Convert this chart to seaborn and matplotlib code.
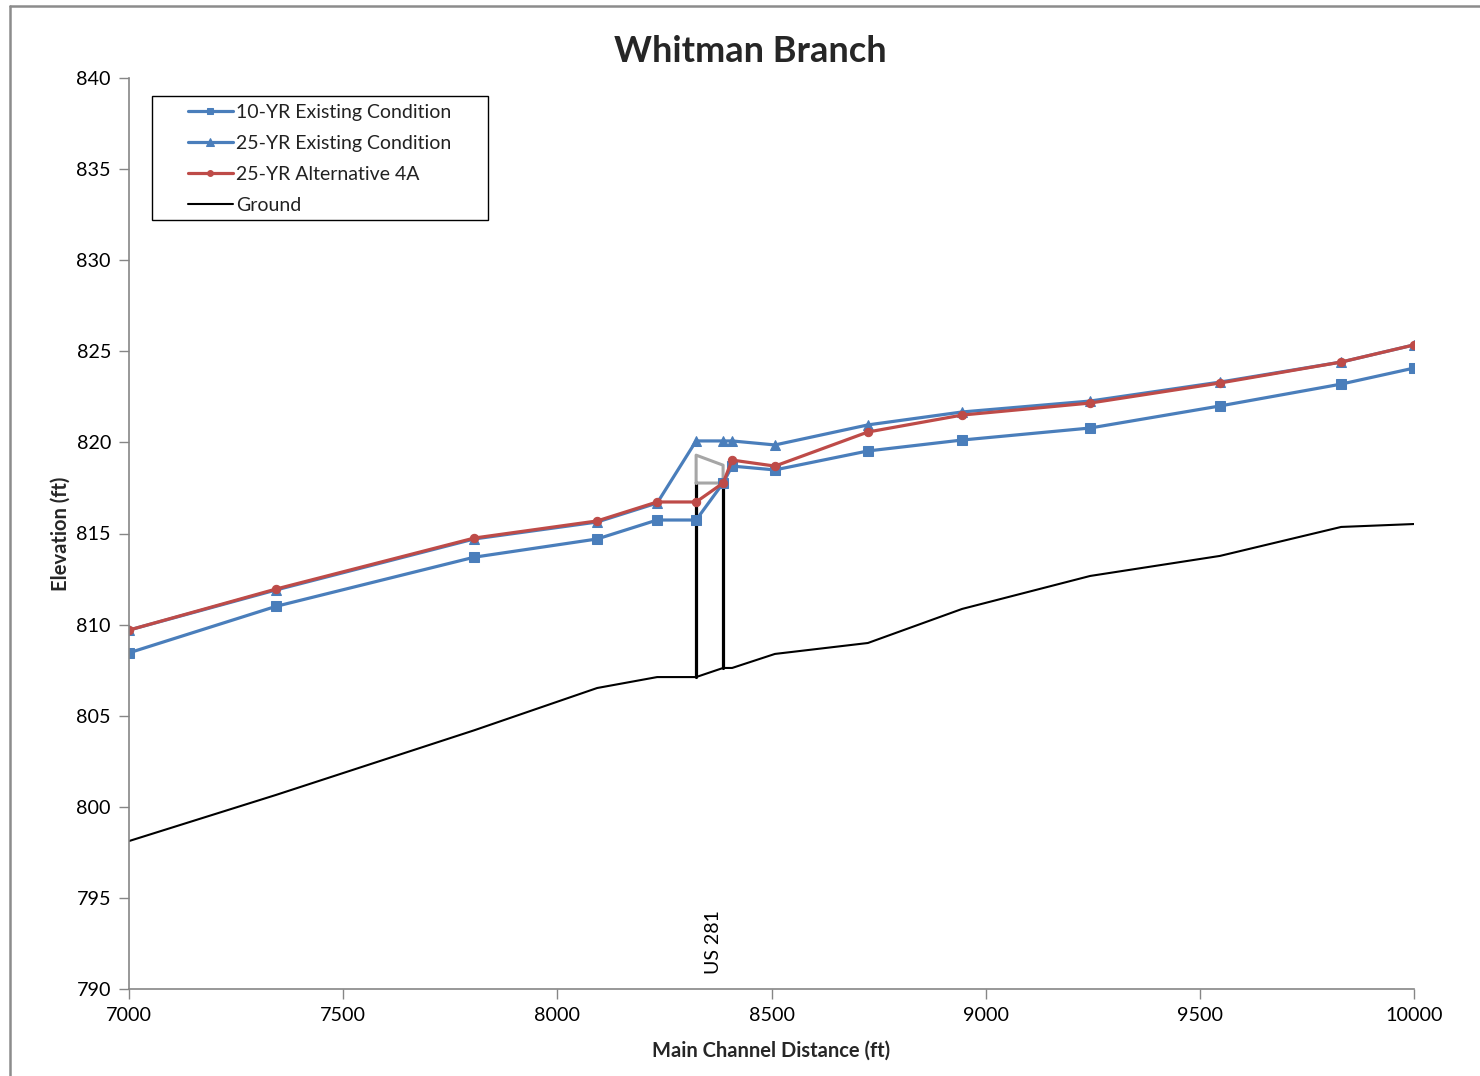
import numpy as np
import pandas as pd
import matplotlib
matplotlib.use("Agg")
import matplotlib.pyplot as plt
from matplotlib.lines import Line2D
from matplotlib.patches import Rectangle
import seaborn as sns

# ---- data ----
stations = [7000, 7343, 7806, 8093, 8233, 8324, 8387, 8408, 8508, 8725, 8945, 9244, 9547, 9830, 10000]
yr10_existing = [808.45, 811.0, 813.7, 814.7, 815.74, 815.74, 817.77, 818.7, 818.49, 819.53, 820.13, 820.79, 822.0, 823.2, 824.08]
yr25_existing = [809.7, 811.9, 814.7, 815.63, 816.67, 820.08, 820.08, 820.08, 819.86, 820.96, 821.67, 822.27, 823.31, 824.41, 825.35]
yr25_alt4a = [809.7, 811.95, 814.75, 815.69, 816.73, 816.73, 817.77, 819.03, 818.7, 820.57, 821.5, 822.16, 823.26, 824.41, 825.35]
ground = [798.12, 800.65, 804.2, 806.52, 807.12, 807.12, 807.62, 807.62, 808.39, 808.99, 810.86, 812.67, 813.77, 815.36, 815.52]

bridge_x = [8324, 8387]
bridge_ground = [807.12, 807.62]
bridge_low_chord = [817.77, 817.77]
bridge_high_chord = [819.3, 818.75]
bridge_label = "US 281"
bridge_label_x = 8364
bridge_label_y = 790.8

series_names = ["10-YR Existing Condition", "25-YR Existing Condition", "25-YR Alternative 4A", "Ground"]
title = "Whitman Branch"
xlabel = "Main Channel Distance (ft)"
ylabel = "Elevation (ft)"
xticks = [7000, 7500, 8000, 8500, 9000, 9500, 10000]
yticks = [790, 795, 800, 805, 810, 815, 820, 825, 830, 835, 840]

# ---- style ----
sns.set_theme(style="white")
plt.rcParams["font.family"] = ["Lato", "DejaVu Sans"]

BLUE = "#4a7ebb"
RED = "#be4b48"
GRAY_AX = "#868686"

W, H = 1480, 1076
fig = plt.figure(figsize=(W/100, H/100), dpi=100)
ax = fig.add_axes([129/W, 1-989/H, (1414-129)/W, (989-78)/H])

sns.lineplot(x=stations, y=yr10_existing, ax=ax, color=BLUE, lw=2.3, marker="s",
             markersize=6.5, markeredgecolor=BLUE, sort=False, estimator=None,
             label=series_names[0])
sns.lineplot(x=stations, y=yr25_existing, ax=ax, color=BLUE, lw=2.3, marker="^",
             markersize=7.5, markeredgecolor=BLUE, sort=False, estimator=None,
             label=series_names[1])
sns.lineplot(x=stations, y=yr25_alt4a, ax=ax, color=RED, lw=2.3, marker="o",
             markersize=6, markeredgecolor=RED, sort=False, estimator=None,
             label=series_names[2])
sns.lineplot(x=stations, y=ground, ax=ax, color="black", lw=1.5, sort=False,
             estimator=None, label=series_names[3])

# bridge
for bx, bg, bl in zip(bridge_x, bridge_ground, bridge_low_chord):
    ax.plot([bx, bx], [bg, bl], color="black", lw=2.3, zorder=1.5)
deck_x = [bridge_x[0], bridge_x[0], bridge_x[1], bridge_x[1], bridge_x[0]]
deck_y = [bridge_low_chord[0], bridge_high_chord[0], bridge_high_chord[1], bridge_low_chord[1], bridge_low_chord[0]]
ax.plot(deck_x, deck_y, color="#a6a6a6", lw=2.2, zorder=1.5)
ax.text(bridge_label_x, bridge_label_y, bridge_label, rotation=90, ha="center", va="bottom",
        fontsize=14, color="black")

ax.set_xlim(7000, 10000)
ax.set_ylim(790, 840)
ax.set_xticks(xticks)
ax.set_yticks(yticks)
ax.tick_params(axis="both", which="major", direction="out", length=7, width=1,
               color=GRAY_AX, labelsize=14.2, labelcolor="black", pad=6,
               left=True, bottom=True)
for side in ["top", "right"]:
    ax.spines[side].set_visible(False)
for side in ["left", "bottom"]:
    ax.spines[side].set_color(GRAY_AX)
    ax.spines[side].set_linewidth(1.2)

ax.set_xlabel(xlabel, fontsize=14.5, fontweight="bold", labelpad=12)
ax.set_ylabel(ylabel, fontsize=14.5, fontweight="bold", labelpad=4)
fig.suptitle(title, fontsize=26, fontweight="bold", x=750/W, y=1-51/H, va="center")

# legend (frame drawn separately to mimic the wide padded box)
leg = ax.legend(loc="upper left", bbox_to_anchor=((188-129)/1285, (989-104)/911), borderaxespad=0,
                fontsize=14, frameon=False, handlelength=2.3,
                handletextpad=0.15, labelspacing=0.72, borderpad=0.0, markerscale=0.7)
for t in leg.get_texts():
    t.set_color("#222222")
fig.add_artist(Rectangle((152/W, 1-220/H), (488-152)/W, (220-96)/H, transform=fig.transFigure,
                         fill=False, edgecolor="black", lw=1.0))

# outer chart frame
fig.add_artist(Line2D([10/W, 1.0], [1-6/H, 1-6/H], transform=fig.transFigure,
                      color="#8c8c8c", lw=1.8))
fig.add_artist(Line2D([10/W, 10/W], [0.0, 1-6/H], transform=fig.transFigure,
                      color="#8c8c8c", lw=1.8))

fig.savefig("out.png", dpi=100)
